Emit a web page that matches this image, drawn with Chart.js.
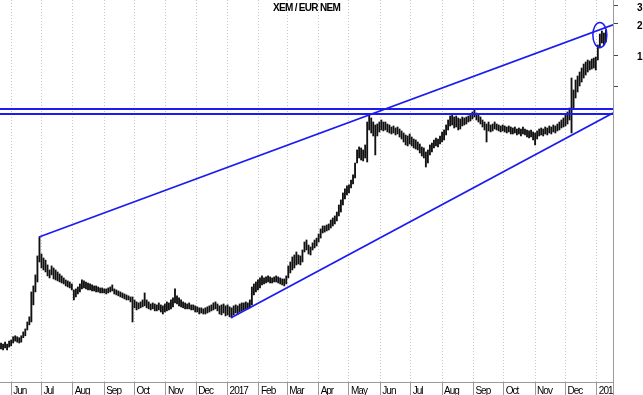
<!DOCTYPE html>
<html><head><meta charset="utf-8">
<script src="https://cdn.jsdelivr.net/npm/chart.js@4"></script>
<style>html,body{margin:0;padding:0;background:#fff}canvas{display:block}</style>
</head><body>
<canvas id="c" width="643" height="395"></canvas>
<script>
const titleText = 'XEM / EUR NEM';
// x axis: days counted from 1 Jun 2016
const monthDays = [0,30,61,92,122,153,183,214,245,273,304,334,365,395,426,457,487,518,548,579];
const monthLabels = ['Jun','Jul','Aug','Sep','Oct','Nov','Dec','2017','Feb','Mar','Apr','May','Jun','Jul','Aug','Sep','Oct','Nov','Dec','2018'];
const xMin = -11, xMax = 595;
const yTickValues = [0.5, 1, 2, 3];
const yTickLabels = ['', '1', '2', '3'];
const yMin = 0.000669, yMax = 3.42;
const firstDay = -10, dayStep = 2;

const highs = [
0.00160,0.00156,0.00163,0.00156,0.00167,0.00171,0.00184,0.00188,0.00184,0.00180,
0.00188,0.00205,0.00219,0.00256,0.00287,0.00501,0.00573,0.00733,0.0112,0.0171,
0.0117,0.0107,0.0102,0.00916,0.00819,0.00896,0.00856,0.00819,0.00783,0.00749,
0.00717,0.00685,0.00655,0.00641,0.00626,0.00599,0.00524,0.00536,0.00560,0.00599,
0.00655,0.00641,0.00626,0.00612,0.00599,0.00586,0.00573,0.00573,0.00560,0.00548,
0.00548,0.00536,0.00536,0.00548,0.00560,0.00586,0.00536,0.00524,0.00512,0.00501,
0.00490,0.00479,0.00469,0.00459,0.00448,0.00448,0.00419,0.00401,0.00392,0.00401,
0.00419,0.00490,0.00419,0.00401,0.00383,0.00392,0.00383,0.00375,0.00392,0.00375,
0.00367,0.00383,0.00401,0.00392,0.00419,0.00439,0.00536,0.00459,0.00439,0.00419,
0.00401,0.00392,0.00383,0.00392,0.00375,0.00375,0.00367,0.00359,0.00351,0.00351,
0.00343,0.00351,0.00359,0.00367,0.00375,0.00392,0.00401,0.00383,0.00367,0.00375,
0.00383,0.00367,0.00375,0.00359,0.00351,0.00367,0.00375,0.00367,0.00383,0.00392,
0.00392,0.00401,0.00392,0.00419,0.00560,0.00599,0.00626,0.00655,0.00685,0.00717,
0.00685,0.00701,0.00717,0.00701,0.00685,0.00701,0.00717,0.00701,0.00685,0.00670,
0.00670,0.00717,0.00896,0.00979,0.01095,0.01145,0.01224,0.01145,0.0112,0.0128,
0.0153,0.0160,0.0143,0.0137,0.0150,0.0160,0.0167,0.0183,0.0205,0.0219,
0.0219,0.0224,0.0229,0.0250,0.0262,0.0274,0.0299,0.0350,0.0392,0.0458,
0.0501,0.0536,0.0548,0.0612,0.0685,0.0895,0.1197,0.128,0.1252,0.1197,
0.1339,0.2237,0.2617,0.2447,0.2237,0.2093,0.2139,0.2237,0.2340,0.2237,
0.2237,0.2139,0.2093,0.2001,0.2047,0.1957,0.2001,0.1913,0.1831,0.1750,
0.1674,0.1637,0.1711,0.1600,0.1530,0.1497,0.1431,0.1368,0.1280,0.1252,
0.1144,0.1197,0.1339,0.1400,0.1497,0.1565,0.1530,0.1637,0.1790,0.1872,
0.2093,0.2340,0.2559,0.2617,0.2502,0.2559,0.2447,0.2392,0.2502,0.2447,
0.2502,0.2559,0.2674,0.2797,0.2991,0.2736,0.2617,0.2502,0.2340,0.2237,
0.2139,0.2237,0.2093,0.2139,0.2237,0.2139,0.2093,0.2047,0.2093,0.2047,
0.2001,0.2047,0.2001,0.1957,0.2001,0.1913,0.1957,0.1913,0.2001,0.1913,
0.1872,0.1831,0.1872,0.1790,0.1750,0.1831,0.1913,0.1957,0.1913,0.2001,
0.1957,0.2047,0.2001,0.2093,0.2047,0.2139,0.2237,0.2340,0.2447,0.2617,
0.2797,0.3059,0.598,0.4575,0.5720,0.6255,0.6837,0.7478,0.8174,0.855,
0.8943,0.8746,0.914,0.935,0.956,1.251,1.599,1.710,1.635,1.749
];
const lows = [
0.00140,0.00137,0.00143,0.00137,0.00146,0.00150,0.00160,0.00167,0.00163,0.00160,
0.00163,0.00180,0.00188,0.00214,0.00240,0.00256,0.00375,0.00501,0.00626,0.00979,
0.00856,0.00819,0.00783,0.00717,0.00685,0.00733,0.00670,0.00655,0.00641,0.00626,
0.00612,0.00599,0.00573,0.00560,0.00548,0.00524,0.00419,0.00448,0.00479,0.00501,
0.00536,0.00548,0.00536,0.00524,0.00524,0.00512,0.00512,0.00501,0.00501,0.00490,
0.00490,0.00490,0.00479,0.00490,0.00501,0.00512,0.00479,0.00469,0.00459,0.00448,
0.00439,0.00429,0.00419,0.00419,0.00401,0.00256,0.00351,0.00335,0.00343,0.00351,
0.00359,0.00367,0.00351,0.00343,0.00335,0.00343,0.00328,0.00328,0.00335,0.00320,
0.00306,0.00320,0.00328,0.00335,0.00343,0.00359,0.00392,0.00383,0.00367,0.00359,
0.00351,0.00343,0.00343,0.00343,0.00335,0.00335,0.00320,0.00320,0.00306,0.00313,
0.00306,0.00306,0.00313,0.00320,0.00328,0.00335,0.00343,0.00328,0.00306,0.00300,
0.00313,0.00293,0.00300,0.00287,0.00281,0.00300,0.00313,0.00306,0.00320,0.00328,
0.00335,0.00343,0.00343,0.00351,0.00375,0.00469,0.00501,0.00524,0.00548,0.00586,
0.00599,0.00612,0.00626,0.00612,0.00612,0.00626,0.00626,0.00612,0.00599,0.00586,
0.00573,0.00599,0.00685,0.00766,0.00819,0.00856,0.00916,0.00936,0.00916,0.00979,
0.01224,0.0128,0.0117,0.01145,0.0128,0.0134,0.0140,0.0153,0.0167,0.0187,
0.0191,0.0196,0.0200,0.0209,0.0219,0.0229,0.0245,0.0274,0.0299,0.0350,
0.0400,0.0438,0.0458,0.0512,0.0559,0.0640,0.0895,0.1001,0.0957,0.0936,
0.1001,0.0915,0.1872,0.1750,0.1637,0.1071,0.1637,0.1790,0.1872,0.1831,
0.1872,0.1790,0.1750,0.1711,0.1750,0.1674,0.1711,0.1600,0.1530,0.1431,
0.1339,0.1309,0.1368,0.1309,0.1252,0.1224,0.1197,0.1119,0.1047,0.1001,
0.0818,0.0895,0.1071,0.1144,0.1252,0.1309,0.1280,0.1368,0.1431,0.1497,
0.1674,0.1872,0.2047,0.2093,0.1957,0.2001,0.1872,0.1913,0.2047,0.2093,
0.2139,0.2237,0.2288,0.2392,0.2502,0.2340,0.2237,0.2139,0.2001,0.1872,
0.1431,0.1831,0.1790,0.1831,0.1913,0.1872,0.1831,0.1790,0.1831,0.1790,
0.1750,0.1790,0.1711,0.1711,0.1750,0.1674,0.1711,0.1637,0.1711,0.1674,
0.1600,0.1565,0.1600,0.1497,0.1339,0.1530,0.1637,0.1674,0.1637,0.1711,
0.1674,0.1750,0.1711,0.1790,0.1750,0.1831,0.1872,0.1957,0.2001,0.2047,
0.2139,0.2340,0.1750,0.3059,0.3825,0.4374,0.5003,0.5468,0.598,0.6396,
0.6837,0.7152,0.731,0.7478,0.7152,0.8943,1.170,1.308,1.251,1.337
];

// blue annotation lines: [day, price] end points
const upperTrend = [[27.6, 0.0171], [595, 1.96]];
const lowerTrend = [[217.4, 0.00281], [595, 0.2736]];
const resistanceA = [[-11, 0.2991], [595, 0.2991]];
const resistanceB = [[-11, 0.2674], [595, 0.2674]];
const circleAt = [582, 1.564];

const blue = '#1c1cf0';
const fontFamily = '"Liberation Sans", Arial, sans-serif';

const bars = highs.map((h, i) => ({ x: firstDay + i * dayStep, y: [lows[i], h] }));
const toPts = p => p.map(([x, y]) => ({ x, y }));
const lineDs = p => ({ type: 'line', data: toPts(p), borderColor: blue, borderWidth: 1.8,
  pointRadius: 0, fill: false, tension: 0, order: 1 });

const overlay = {
  id: 'overlay',
  beforeDraw(chart) { chart.ctx.letterSpacing = '-1px'; },
  afterDatasetsDraw(chart) {
    const { ctx, scales: { x, y } } = chart;
    ctx.save();
    ctx.strokeStyle = blue; ctx.lineWidth = 1.5;
    ctx.beginPath();
    ctx.ellipse(x.getPixelForValue(circleAt[0]), y.getPixelForValue(circleAt[1]), 7, 12.5, 0, 0, Math.PI * 2);
    ctx.stroke();
    ctx.restore();
  },
  afterDraw(chart) {
    const { ctx, chartArea: a } = chart;
    ctx.save();
    ctx.fillStyle = '#fff';
    ctx.fillRect(a.right + 1, a.bottom + 1, chart.width - a.right, chart.height - a.bottom);
    ctx.strokeStyle = '#9a9a9a'; ctx.lineWidth = 1;
    ctx.beginPath(); ctx.moveTo(a.right + 0.5, a.bottom); ctx.lineTo(a.right + 0.5, chart.height); ctx.stroke();
    ctx.letterSpacing = '-0.7px';
    ctx.font = 'bold 10px ' + fontFamily;
    ctx.fillStyle = '#000'; ctx.textAlign = 'center'; ctx.textBaseline = 'middle';
    ctx.fillText(titleText, (a.left + a.right) / 2, a.top + 8);
    ctx.restore();
  }
};

new Chart(document.getElementById('c'), {
  type: 'bar',
  data: {
    datasets: [
      { type: 'bar', data: bars, backgroundColor: '#111', borderWidth: 0, barThickness: 1.2, grouped: false, order: 2 },
      lineDs(upperTrend), lineDs(lowerTrend), lineDs(resistanceA), lineDs(resistanceB)
    ]
  },
  options: {
    responsive: false, animation: false, maintainAspectRatio: false,
    layout: { padding: 0 },
    plugins: { legend: { display: false }, tooltip: { enabled: false }, title: { display: false } },
    events: [],
    scales: {
      x: {
        type: 'linear', min: xMin, max: xMax, offset: false,
        afterBuildTicks: s => { s.ticks = monthDays.map(v => ({ value: v })); },
        afterFit: s => { s.height = 13; s.paddingLeft = 0; s.paddingRight = 0; },
        ticks: { autoSkip: false, maxRotation: 0, minRotation: 0, align: 'start', labelOffset: 2, padding: -10,
          color: '#000', font: { family: fontFamily, size: 10 }, callback: (v, i) => monthLabels[i] },
        grid: { color: '#c8c8c8', lineWidth: 1, drawTicks: true, tickLength: 13, tickColor: '#9a9a9a', offset: false },
        border: { display: true, color: '#9a9a9a', width: 1, dash: [1, 2] }
      },
      y: {
        type: 'logarithmic', position: 'right', min: yMin, max: yMax,
        afterBuildTicks: s => { s.ticks = yTickValues.map(v => ({ value: v })); },
        afterFit: s => { s.width = 30; s.paddingTop = 0; s.paddingBottom = 0; },
        ticks: { padding: 19, labelOffset: 2, color: '#000', font: { family: fontFamily, size: 10, weight: 'bold' },
          callback: (v, i) => yTickLabels[i] },
        grid: { drawOnChartArea: false, drawTicks: true, tickLength: 5, tickColor: '#444', color: '#9a9a9a' },
        border: { display: true, color: '#9a9a9a', width: 1 }
      }
    }
  },
  plugins: [overlay]
});
</script>
</body></html>
